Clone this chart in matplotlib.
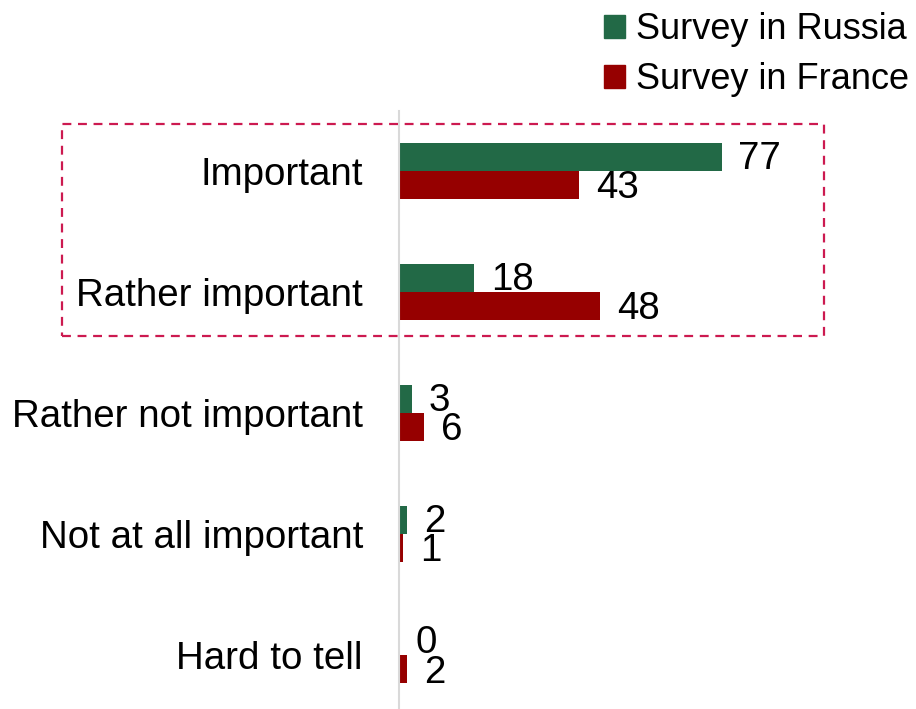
import matplotlib
matplotlib.use("Agg")
import matplotlib.pyplot as plt
from matplotlib.patches import Rectangle, Patch

categories = ["Important", "Rather important", "Rather not important",
              "Not at all important", "Hard to tell"]
russia = [77, 18, 3, 2, 0]
france = [43, 48, 6, 1, 2]
series_names = ["Survey in Russia", "Survey in France"]

GREEN = "#226946"
RED = "#960000"
BOX = "#CC1A50"
FONT = "Liberation Sans"
FS = 27.7

plt.rcParams["font.family"] = [FONT, "DejaVu Sans"]

W, H = 916, 709
fig = plt.figure(figsize=(W / 100, H / 100), dpi=100)
left_px, top_px = 399, 110.5
ax = fig.add_axes([left_px / W, 0, 1 - left_px / W, 1 - top_px / H])

bh = 0.2314
ys = list(range(len(categories)))
ax.barh([y - bh / 2 for y in ys], russia, height=bh, color=GREEN)
ax.barh([y + bh / 2 for y in ys], france, height=bh, color=RED)

for y, v in zip(ys, russia):
    ax.annotate(str(v), (v, y - bh / 2), xytext=(12, -1.5), textcoords="offset points",
                va="center", ha="left", fontsize=FS)
for y, v in zip(ys, france):
    ax.annotate(str(v), (v, y + bh / 2), xytext=(12, -2.5), textcoords="offset points",
                va="center", ha="left", fontsize=FS)

ax.set_xlim(0, 123.4)
ax.set_ylim(4.446, -0.5)
ax.set_yticks(ys)
ax.set_yticklabels(categories, fontsize=FS)
ax.tick_params(axis="y", length=0, pad=26)
ax.set_xticks([])
for s in ["top", "right", "bottom"]:
    ax.spines[s].set_visible(False)
ax.spines["left"].set_color("#D9D9D9")
ax.spines["left"].set_linewidth(1.5)

# dashed highlight box around first two categories
fig.add_artist(Rectangle((62 / W, 1 - 336 / H), (824 - 62) / W, (336 - 124) / H,
                         transform=fig.transFigure, fill=False, edgecolor=BOX,
                         linestyle=(0, (4, 3)), linewidth=1.6))

handles = [Patch(color=GREEN), Patch(color=RED)]
fig.legend(handles, series_names, loc="upper right",
           bbox_to_anchor=(1.0 + 4 / W, 1.0 - 1 / H),
           frameon=False, fontsize=26, handlelength=0.6, handleheight=0.6,
           handletextpad=0.3, labelspacing=0.42, borderaxespad=0.1, borderpad=0.2)

fig.savefig("out.png", dpi=100)
